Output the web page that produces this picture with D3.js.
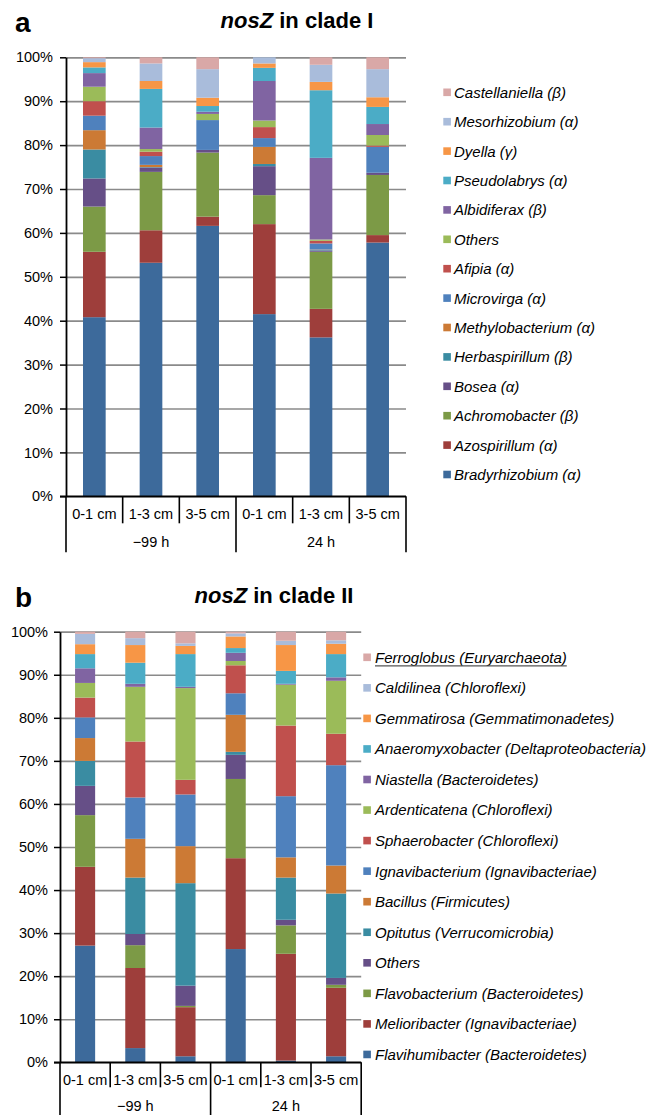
<!DOCTYPE html>
<html>
<head>
<meta charset="utf-8">
<script src="https://cdn.jsdelivr.net/npm/d3@7"></script>
<style>
body { margin: 0; background: #fff; }
text { font-family: "Liberation Sans", Arial, sans-serif; fill: #000; }
</style>
</head>
<body>
<svg id="chart"></svg>
<script>
const samples = ['0-1 cm', '1-3 cm', '3-5 cm', '0-1 cm', '1-3 cm', '3-5 cm']
const times = ['\u221299 h', '24 h']
const yTicks = [0, 10, 20, 30, 40, 50, 60, 70, 80, 90, 100]

// clade I, bottom of the stack first
const taxaI = [
	'Bradyrhizobium (\u03b1)', 'Azospirillum (\u03b1)', 'Achromobacter (\u03b2)', 'Bosea (\u03b1)',
	'Herbaspirillum (\u03b2)', 'Methylobacterium (\u03b1)', 'Microvirga (\u03b1)', 'Afipia (\u03b1)',
	'Others', 'Albidiferax (\u03b2)', 'Pseudolabrys (\u03b1)', 'Dyella (\u03b3)',
	'Mesorhizobium (\u03b1)', 'Castellaniella (\u03b2)'
]
const sharesI = [
	[40.8, 53.2, 61.6, 41.5, 36.2, 57.8],
	[14.9, 7.4, 2.1, 20.5, 6.5, 1.7],
	[10.3, 13.3, 14.6, 6.6, 13.0, 13.7],
	[6.4, 1.0, 0.6, 6.6, 0.3, 0.5],
	[6.6, 0.1, 0, 0.5, 0.1, 0],
	[4.4, 0.5, 0, 3.9, 0.1, 0],
	[3.3, 2.0, 6.8, 2.0, 1.4, 5.9],
	[3.3, 1.0, 0, 2.5, 0.6, 0.3],
	[3.3, 0.6, 1.4, 1.5, 0.3, 2.4],
	[3.1, 4.9, 0.5, 9.0, 18.6, 2.5],
	[1.3, 8.8, 1.3, 3.0, 15.4, 3.9],
	[1.2, 1.8, 1.9, 1.0, 1.9, 2.2],
	[0.9, 4.0, 6.5, 1.4, 3.9, 6.4],
	[0.2, 1.4, 2.7, 0, 1.7, 2.7]
]

// clade II, bottom of the stack first
const taxaII = [
	'Flavihumibacter (Bacteroidetes)', 'Melioribacter (Ignavibacteriae)', 'Flavobacterium (Bacteroidetes)',
	'Others', 'Opitutus (Verrucomicrobia)', 'Bacillus (Firmicutes)', 'Ignavibacterium (Ignavibacteriae)',
	'Sphaerobacter (Chloroflexi)', 'Ardenticatena (Chloroflexi)', 'Niastella (Bacteroidetes)',
	'Anaeromyxobacter (Deltaproteobacteria)', 'Gemmatirosa (Gemmatimonadetes)',
	'Caldilinea (Chloroflexi)', 'Ferroglobus (Euryarchaeota)'
]
const sharesII = [
	[27.1, 3.3, 1.4, 26.3, 0.4, 1.4],
	[18.3, 18.6, 11.4, 21.1, 24.8, 15.9],
	[12.0, 5.3, 0.3, 18.4, 6.6, 0.7],
	[6.8, 2.6, 4.7, 5.6, 1.3, 1.6],
	[5.8, 13.1, 23.8, 0.7, 9.8, 19.6],
	[5.3, 9.0, 8.6, 8.6, 4.7, 6.5],
	[4.8, 9.6, 12.0, 5.0, 14.2, 23.3],
	[4.6, 13.0, 3.4, 6.5, 16.4, 7.3],
	[3.4, 12.7, 21.3, 1.0, 9.5, 12.3],
	[3.4, 0.7, 0.3, 1.9, 0.2, 0.8],
	[3.3, 4.9, 7.6, 1.1, 3.0, 5.4],
	[2.3, 4.1, 1.9, 2.7, 6.0, 2.4],
	[2.4, 1.6, 0.6, 0.7, 1.0, 0.8],
	[0.5, 1.5, 2.7, 0.4, 2.1, 2.0]
]

const palette = [
	'#3d6a9b', '#9e3e3b', '#7c9a46', '#664f87', '#3a8ca2', '#cc7a35', '#4f81bd',
	'#c0504d', '#9bbb59', '#8064a2', '#4bacc6', '#f79646', '#a9bcdb', '#d9a8a7'
]

const svg = d3.select('#chart').attr('width', 646).attr('height', 1115)

function drawPanel(o) {
	const g = svg.append('g')
	const keys = o.taxa.map((d, i) => i)
	const table = samples.map((s, j) => {
		const row = { id: j }
		keys.forEach(k => (row[k] = o.shares[k][j]))
		return row
	})
	const series = d3.stack().keys(keys)(table)

	const xCell = d3.scaleBand().domain(d3.range(6)).range([o.left, o.right])
	const xBar = d3
		.scaleBand()
		.domain(d3.range(6))
		.range([o.left, o.right])
		.paddingInner(0.6)
		.paddingOuter(0.3)
	const y = d3.scaleLinear().domain([0, 100]).range([o.bottom, o.top])

	// letter + title
	g.append('text')
		.attr('x', 15)
		.attr('y', o.titleY + 4)
		.attr('font-size', 28)
		.attr('font-weight', 'bold')
		.text(o.letter)
	const t = g
		.append('text')
		.attr('x', o.titleX)
		.attr('y', o.titleY)
		.attr('text-anchor', 'middle')
		.attr('font-size', 22)
		.attr('font-weight', 'bold')
	t.append('tspan').attr('font-style', 'italic').text('nosZ')
	t.append('tspan').text(' in clade ' + o.clade)

	// gridlines
	const grid = g
		.append('g')
		.attr('transform', `translate(${o.left},0)`)
		.call(d3.axisLeft(y).tickValues(yTicks).tickSize(-(o.right - o.left)).tickFormat(''))
	grid.select('.domain').remove()
	grid.selectAll('line').attr('stroke', '#8a8a8a').attr('stroke-width', 1.7)

	// bars
	g.append('g')
		.selectAll('g')
		.data(series)
		.join('g')
		.attr('fill', d => palette[d.key])
		.selectAll('rect')
		.data(d => d)
		.join('rect')
		.attr('x', d => xBar(d.data.id))
		.attr('y', d => y(d[1]))
		.attr('width', xBar.bandwidth())
		.attr('height', d => y(d[0]) - y(d[1]))

	// y axis
	const yAxis = g
		.append('g')
		.attr('transform', `translate(${o.left},0)`)
		.call(
			d3
				.axisLeft(y)
				.tickValues(yTicks)
				.tickSizeInner(6)
				.tickSizeOuter(0)
				.tickPadding(o.tickPad)
				.tickFormat(d => d + '%')
		)
	yAxis.select('.domain').attr('stroke', '#000').attr('stroke-width', 1.8)
	yAxis.selectAll('line').attr('stroke', '#000').attr('stroke-width', 1.5)
	yAxis.selectAll('text').attr('font-size', 14.5).attr('font-family', '"Liberation Sans", Arial, sans-serif')

	// category axis
	g.append('line')
		.attr('x1', o.left - 6)
		.attr('x2', o.right)
		.attr('y1', o.bottom)
		.attr('y2', o.bottom)
		.attr('stroke', '#000')
		.attr('stroke-width', 1.8)
	const edges = d3.range(7)
	g.append('g')
		.selectAll('line')
		.data(edges)
		.join('line')
		.attr('x1', i => (i < 6 ? xCell(i) : o.right))
		.attr('x2', i => (i < 6 ? xCell(i) : o.right))
		.attr('y1', o.bottom)
		.attr('y2', i => o.bottom + (i % 3 === 0 ? o.longTick : o.shortTick))
		.attr('stroke', '#000')
		.attr('stroke-width', 1.6)
	g.append('g')
		.selectAll('text')
		.data(samples)
		.join('text')
		.attr('x', (d, i) => xCell(i) + xCell.bandwidth() / 2)
		.attr('y', o.bottom + 23)
		.attr('text-anchor', 'middle')
		.attr('font-size', 14.5)
		.text(d => d)
	g.append('g')
		.selectAll('text')
		.data(times)
		.join('text')
		.attr('x', (d, i) => xCell(i * 3) + xCell.bandwidth() * 1.5)
		.attr('y', o.bottom + o.groupY)
		.attr('text-anchor', 'middle')
		.attr('font-size', 14.5)
		.text(d => d)

	// legend, top of the stack first
	const items = keys.slice().reverse()
	const leg = g
		.append('g')
		.selectAll('g')
		.data(items)
		.join('g')
		.attr('transform', (k, i) => `translate(${o.legendX},${o.legendY + i * o.legendStep})`)
	leg.append('rect').attr('x', 0).attr('y', -3.8).attr('width', 7.6).attr('height', 7.6).attr('fill', k => palette[k])
	leg.append('text')
		.attr('x', o.legendGap)
		.attr('dy', '0.36em')
		.attr('font-size', 15)
		.attr('font-style', 'italic')
		.text(k => o.taxa[k])
		.each(function (k) {
			if (o.underline && k === keys.length - 1) {
				const w = this.getComputedTextLength()
				d3.select(this.parentNode)
					.append('line')
					.attr('x1', o.legendGap)
					.attr('x2', o.legendGap + w)
					.attr('y1', 8.5)
					.attr('y2', 8.5)
					.attr('stroke', '#555')
					.attr('stroke-width', 1.2)
			}
		})
}

drawPanel({
	taxa: taxaI,
	shares: sharesI,
	letter: 'a',
	clade: 'I',
	titleX: 297,
	titleY: 28,
	left: 66,
	right: 406,
	top: 57.3,
	bottom: 496.3,
	tickPad: 7,
	shortTick: 27,
	longTick: 56,
	groupY: 51,
	legendX: 443.3,
	legendY: 92.3,
	legendStep: 29.4,
	legendGap: 10.7,
	underline: false
})

drawPanel({
	taxa: taxaII,
	shares: sharesII,
	letter: 'b',
	clade: 'II',
	titleX: 274,
	titleY: 603,
	left: 60,
	right: 361.2,
	top: 631.7,
	bottom: 1062.3,
	tickPad: 6,
	shortTick: 25,
	longTick: 60,
	groupY: 49,
	legendX: 363.3,
	legendY: 657.3,
	legendStep: 30.55,
	legendGap: 11.7,
	underline: true
})
</script>
</body>
</html>
